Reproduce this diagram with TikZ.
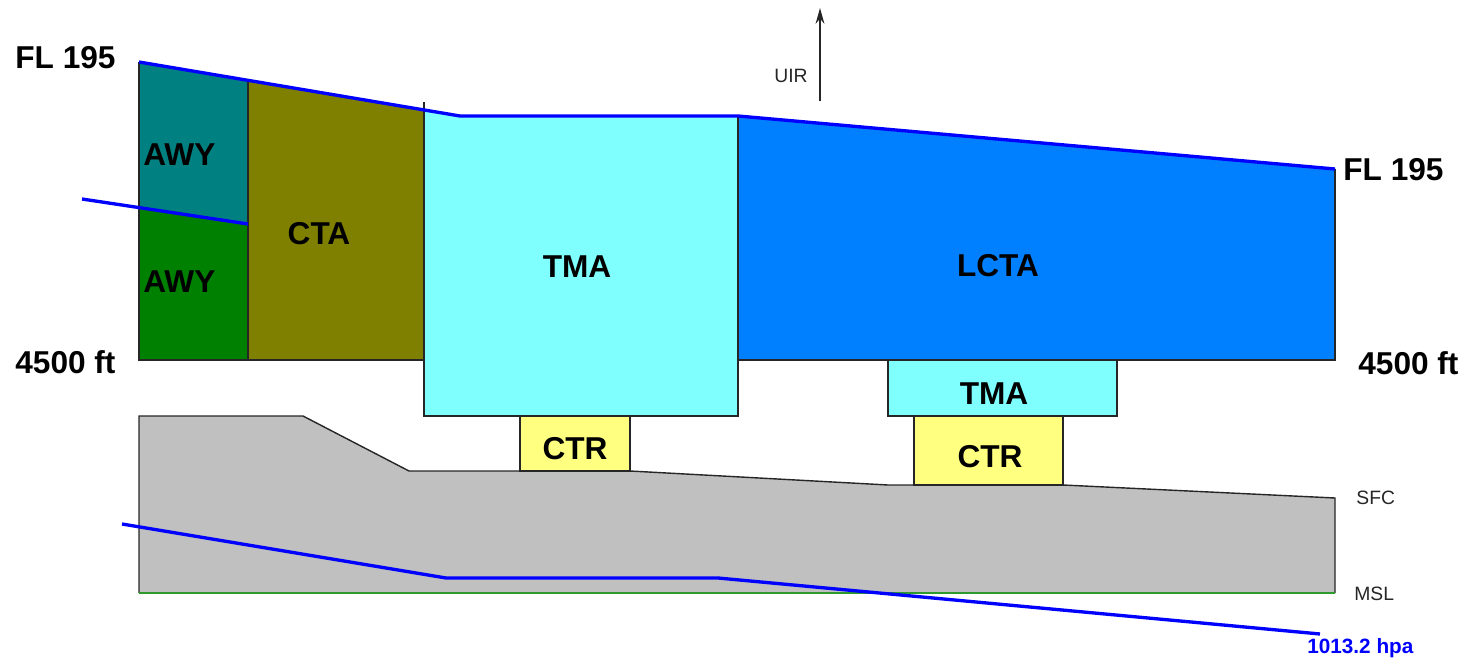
\documentclass[tikz,border=0pt]{standalone}
\usepackage{fontspec}
\setmainfont{Liberation Sans}
\usetikzlibrary{arrows.meta}
\definecolor{awyteal}{HTML}{008080}
\definecolor{awygreen}{HTML}{008000}
\definecolor{ctaolive}{HTML}{808000}
\definecolor{tmacyan}{HTML}{80FFFF}
\definecolor{lctablue}{HTML}{0080FF}
\definecolor{ctryellow}{HTML}{FFFF80}
\definecolor{groundgray}{HTML}{C0C0C0}
\definecolor{pureblue}{HTML}{0000FF}
\definecolor{mslgreen}{HTML}{2E9A2E}
\definecolor{outl}{HTML}{262626}
\begin{document}
\begin{tikzpicture}[x=0.02cm,y=-0.02cm,
  outline/.style={draw=outl, line width=0.8pt, line join=miter},
  blueline/.style={draw=pureblue, line width=1.9pt},
  biglabel/.style={font=\fontsize{18}{20}\selectfont\bfseries, inner sep=0pt},
  smalllabel/.style={font=\fontsize{11}{13}\selectfont, text=outl, inner sep=0pt},
  hpalabel/.style={font=\fontsize{11.8}{14}\selectfont\bfseries, text=pureblue, inner sep=0pt}]
\useasboundingbox (0,0) rectangle (1467,662);
% fills
\path[fill=awyteal] (139,62) -- (248,80) -- (248,224) -- (139,207) -- cycle;
\path[fill=awygreen] (139,207) -- (248,224) -- (248,360) -- (139,360) -- cycle;
\path[fill=ctaolive] (248,80) -- (424,110) -- (424,360) -- (248,360) -- cycle;
\path[fill=tmacyan] (424,110) -- (460,116) -- (738,116) -- (738,416) -- (424,416) -- cycle;
\path[fill=lctablue] (738,116) -- (1335,169) -- (1335,360) -- (738,360) -- cycle;
\path[fill=tmacyan] (888,360) rectangle (1117,416);
\path[fill=ctryellow] (520,416) rectangle (630,471);
\path[fill=ctryellow] (914,416) rectangle (1063,485);
\path[fill=groundgray] (139,416) -- (303,416) -- (409,471) -- (630,471) -- (888,485) -- (1063,485) -- (1335,498) -- (1335,593) -- (139,593) -- cycle;
% outlines
\draw[outline] (139,62) -- (139,360) -- (424,360);
\draw[outline] (248,80) -- (248,360);
\draw[outline] (424,102) -- (424,416) -- (738,416) -- (738,116);
\draw[outline] (738,360) -- (1335,360) -- (1335,169);
\draw[outline] (888,360) -- (888,416) -- (1117,416) -- (1117,360);
\draw[outline] (520,416) rectangle (630,471);
\draw[outline] (914,416) rectangle (1063,485);
\draw[outline] (139,593) -- (139,416) -- (303,416) -- (409,471) -- (630,471) -- (888,485) -- (1063,485) -- (1335,498) -- (1335,593);
\draw[draw=mslgreen, line width=0.9pt] (139,593) -- (1335,593);
% blue lines
\draw[blueline] (139,62) -- (460,116) -- (738,116) -- (1335,169);
\draw[blueline] (82,199) -- (248,224);
\draw[blueline] (122,524) -- (446,578) -- (718,578) -- (1320,634);
% UIR arrow
\coordinate (uirbase) at (820,101);
\coordinate (uirtop) at (820,8);
\draw[draw=outl, line width=1pt, -{Stealth[length=9pt,width=5pt]}] (uirbase) -- (uirtop);
% labels
\node[biglabel, anchor=west] (fl195l) at (15,58) {FL 195};
\node[biglabel, anchor=west] (ft4500l) at (15,362) {4500 ft};
\node[biglabel, anchor=west] (fl195r) at (1343,170) {FL 195};
\node[biglabel, anchor=west] (ft4500r) at (1358,363) {4500 ft};
\node[biglabel, anchor=west] (awyup) at (143,155) {AWY};
\node[biglabel, anchor=west] (awylow) at (143,282) {AWY};
\node[biglabel] (cta) at (319,234) {CTA};
\node[biglabel] (tma) at (577,267) {TMA};
\node[biglabel] (lcta) at (998,266) {LCTA};
\node[biglabel] (tmasmall) at (994,394) {TMA};
\node[biglabel] (ctrone) at (575,449) {CTR};
\node[biglabel] (ctrtwo) at (990,457) {CTR};
\node[smalllabel, anchor=west] (uir) at (774,76) {UIR};
\node[smalllabel, anchor=west] (sfc) at (1356,498) {SFC};
\node[smalllabel, anchor=west] (msl) at (1354,594) {MSL};
\node[hpalabel, anchor=west] (hpa) at (1307,648) {1013.2 hpa};
\end{tikzpicture}
\end{document}
